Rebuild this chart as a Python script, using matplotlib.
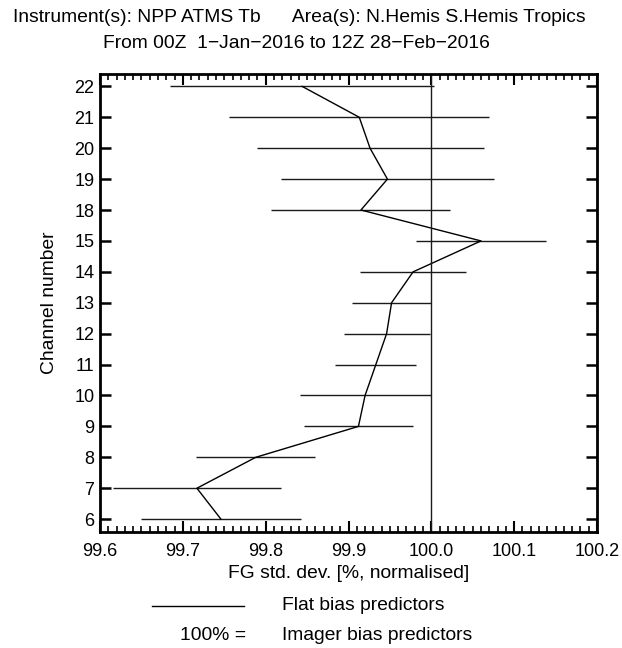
import matplotlib
matplotlib.use("Agg")
import matplotlib.pyplot as plt
from matplotlib.ticker import MultipleLocator, FixedLocator, FormatStrFormatter
from matplotlib.lines import Line2D

plt.rcParams['font.family'] = ['Liberation Sans', 'DejaVu Sans']

channels = ['6', '7', '8', '9', '10', '11', '12', '13', '14', '15', '18', '19', '20', '21', '22']
means = [99.746, 99.717, 99.788, 99.912, 99.920, 99.933, 99.946, 99.952, 99.978, 100.060,
         99.915, 99.947, 99.926, 99.913, 99.844]
halfwidth = [0.097, 0.101, 0.072, 0.066, 0.079, 0.049, 0.052, 0.048, 0.064, 0.079,
             0.108, 0.129, 0.137, 0.157, 0.159]
reference = 100.0

W, H = 622, 648
TXT = 13.9
TICK = 13
fig = plt.figure(figsize=(W / 100, H / 100), dpi=100)
ax = fig.add_axes([100 / W, 1 - 531.5 / H, 497 / W, (531.5 - 74) / H])

ypos = list(range(len(channels)))
for y, m, h in zip(ypos, means, halfwidth):
    ax.plot([m - h, m + h], [y, y], color='#1a1a1a', lw=1.0, solid_capstyle='butt')
ax.plot(means, ypos, color='black', lw=1.0)
ax.axvline(reference, color='#1a1a1a', lw=1.0)

ax.set_xlim(99.6, 100.2)
ax.set_ylim(-0.4, len(channels) - 1 + 0.4)
ax.xaxis.set_major_locator(MultipleLocator(0.1))
ax.xaxis.set_minor_locator(MultipleLocator(0.01))
ax.xaxis.set_major_formatter(FormatStrFormatter('%.1f'))
ax.yaxis.set_major_locator(FixedLocator(ypos))
ax.set_yticklabels(channels)
ax.tick_params(axis='x', which='major', direction='in', top=True, bottom=True, length=8, width=1.5,
               labelsize=TICK, pad=8, colors='black')
ax.tick_params(axis='x', which='minor', direction='in', top=True, bottom=True, length=4, width=1.2)
ax.tick_params(axis='y', which='major', direction='in', left=True, right=True, length=8, width=1.8,
               labelsize=TICK, pad=4)
for s in ax.spines.values():
    s.set_linewidth(2.0)

ax.set_xlabel('FG std. dev. [%, normalised]', fontsize=TXT, va='center')
ax.xaxis.set_label_coords(0.5, (531.5 - 574) / 457.5)
ax.set_ylabel('Channel number', fontsize=TXT, va='center')
ax.yaxis.set_label_coords((50 - 100) / 497, 0.5)

fig.text(299 / W, 1 - 17 / H, 'Instrument(s): NPP ATMS Tb      Area(s): N.Hemis S.Hemis Tropics',
         ha='center', va='center', fontsize=TXT)
fig.text(296 / W, 1 - 44 / H, 'From 00Z  1\u2212Jan\u22122016 to 12Z 28\u2212Feb\u22122016',
         ha='center', va='center', fontsize=TXT)

fig.add_artist(Line2D([152 / W, 244 / W], [1 - 606 / H, 1 - 606 / H], color='black', lw=1.0))
fig.text(282 / W, 1 - 605 / H, 'Flat bias predictors', ha='left', va='center', fontsize=TXT)
fig.text(246 / W, 1 - 636 / H, '100% =', ha='right', va='center', fontsize=TXT)
fig.text(282 / W, 1 - 636 / H, 'Imager bias predictors', ha='left', va='center', fontsize=TXT)

fig.savefig('out.png', dpi=100)
